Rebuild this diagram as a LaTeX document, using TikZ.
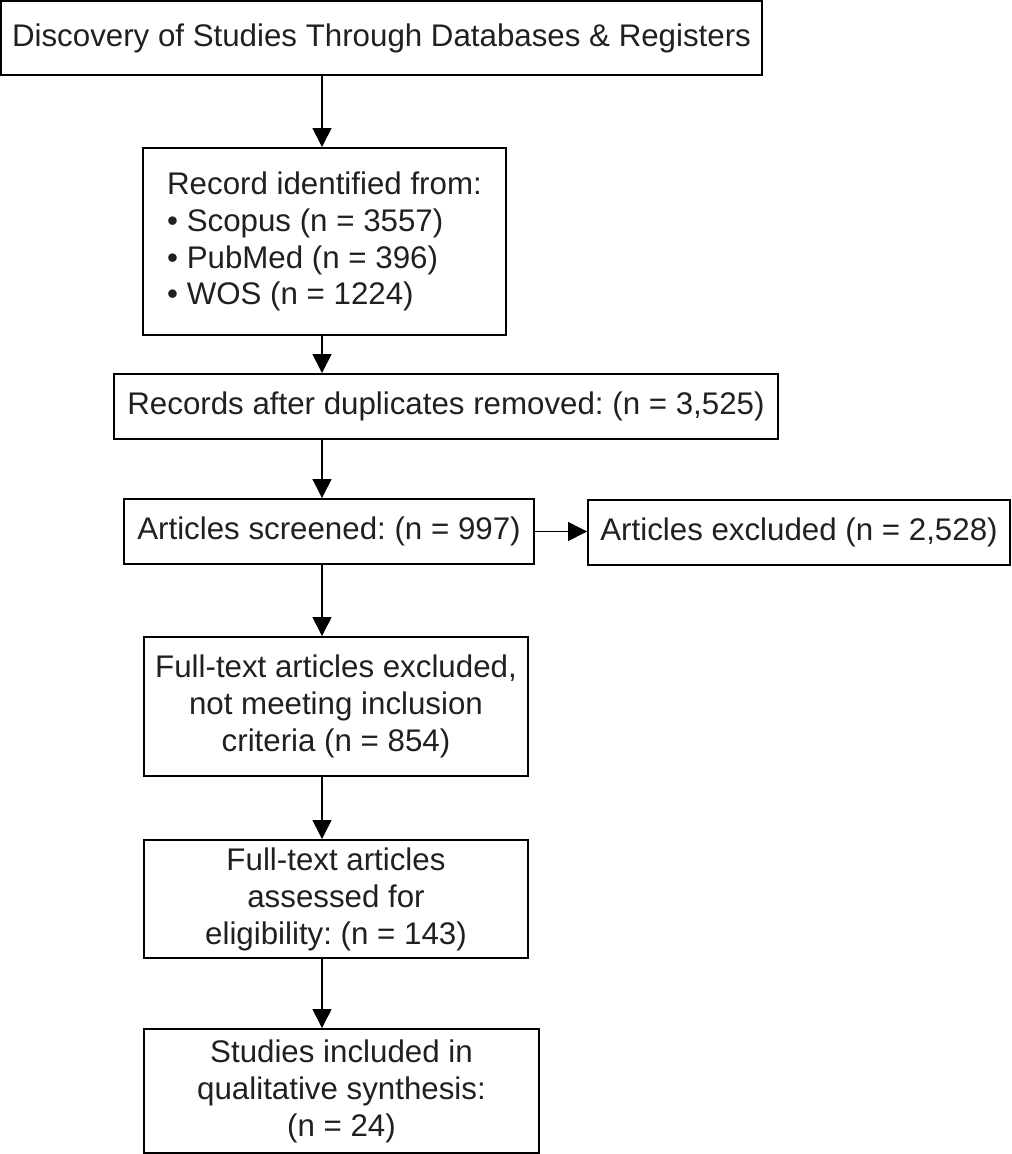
\documentclass[tikz,border=0pt]{standalone}
\usepackage{fontspec}
\setmainfont{Liberation Sans}
\usepackage{xcolor}
\usepackage{tikz}
\usetikzlibrary{
    arrows.meta,
    positioning
}
\definecolor{inkgray}{HTML}{231F20}
\frenchspacing

\begin{document}
\begin{tikzpicture}[->,>={Triangle[length=0.38cm,width=0.38cm]},line width=0.8pt]
    \tikzstyle{every node}=[font=\fontsize{17.8pt}{21pt}\selectfont, text=inkgray]
    \tikzstyle{stagebox}=[draw, line width=1.1pt, align=center, inner sep=0pt]
    \useasboundingbox (0,0) rectangle (20.24,-23.08);

    \coordinate (axis) at (6.44, 0);
    \node[stagebox, minimum width=15.22cm, minimum height=1.48cm] (found) at (7.63, -0.76) {Discovery of Studies Through Databases \& Registers};
    \node[stagebox, align=left, minimum width=7.26cm, minimum height=3.74cm] (ident) at (6.49, -4.83) {Record identified from:\\
        • Scopus (n = 3557)\\
        • PubMed (n = 396)\\
        • WOS (n = 1224)};
    \node[stagebox, minimum width=13.28cm, minimum height=1.30cm] (dedup) at (8.92, -8.13) {Records after duplicates removed: (n = 3,525)};
    \node[stagebox, minimum width=8.20cm, minimum height=1.30cm] (screen) at (6.58, -10.63) {Articles screened: (n = 997)};
    \node[stagebox, minimum width=8.44cm, minimum height=1.30cm] (drop) at (15.98, -10.65) {Articles excluded (n = 2,528)};
    \node[stagebox, minimum width=7.68cm, minimum height=2.78cm] (fullout) at (6.72, -14.13) {Full-text articles excluded,\\ not meeting inclusion\\ criteria (n = 854)};
    \node[stagebox, minimum width=7.68cm, minimum height=2.36cm] (elig) at (6.72, -17.98) {Full-text articles\\ assessed for\\ eligibility: (n = 143)};
    \node[stagebox, minimum width=7.90cm, minimum height=2.48cm] (incl) at (6.83, -21.82) {Studies included in\\ qualitative synthesis:\\ (n = 24)};

    \draw (found.south -| axis) -- (ident.north -| axis);
    \draw (ident.south -| axis) -- (dedup.north -| axis);
    \draw (dedup.south -| axis) -- (screen.north -| axis);
    \draw (screen.east) -- (screen.east -| drop.west);
    \draw (screen.south -| axis) -- (fullout.north -| axis);
    \draw (fullout.south -| axis) -- (elig.north -| axis);
    \draw (elig.south -| axis) -- (incl.north -| axis);
\end{tikzpicture}
\end{document}
